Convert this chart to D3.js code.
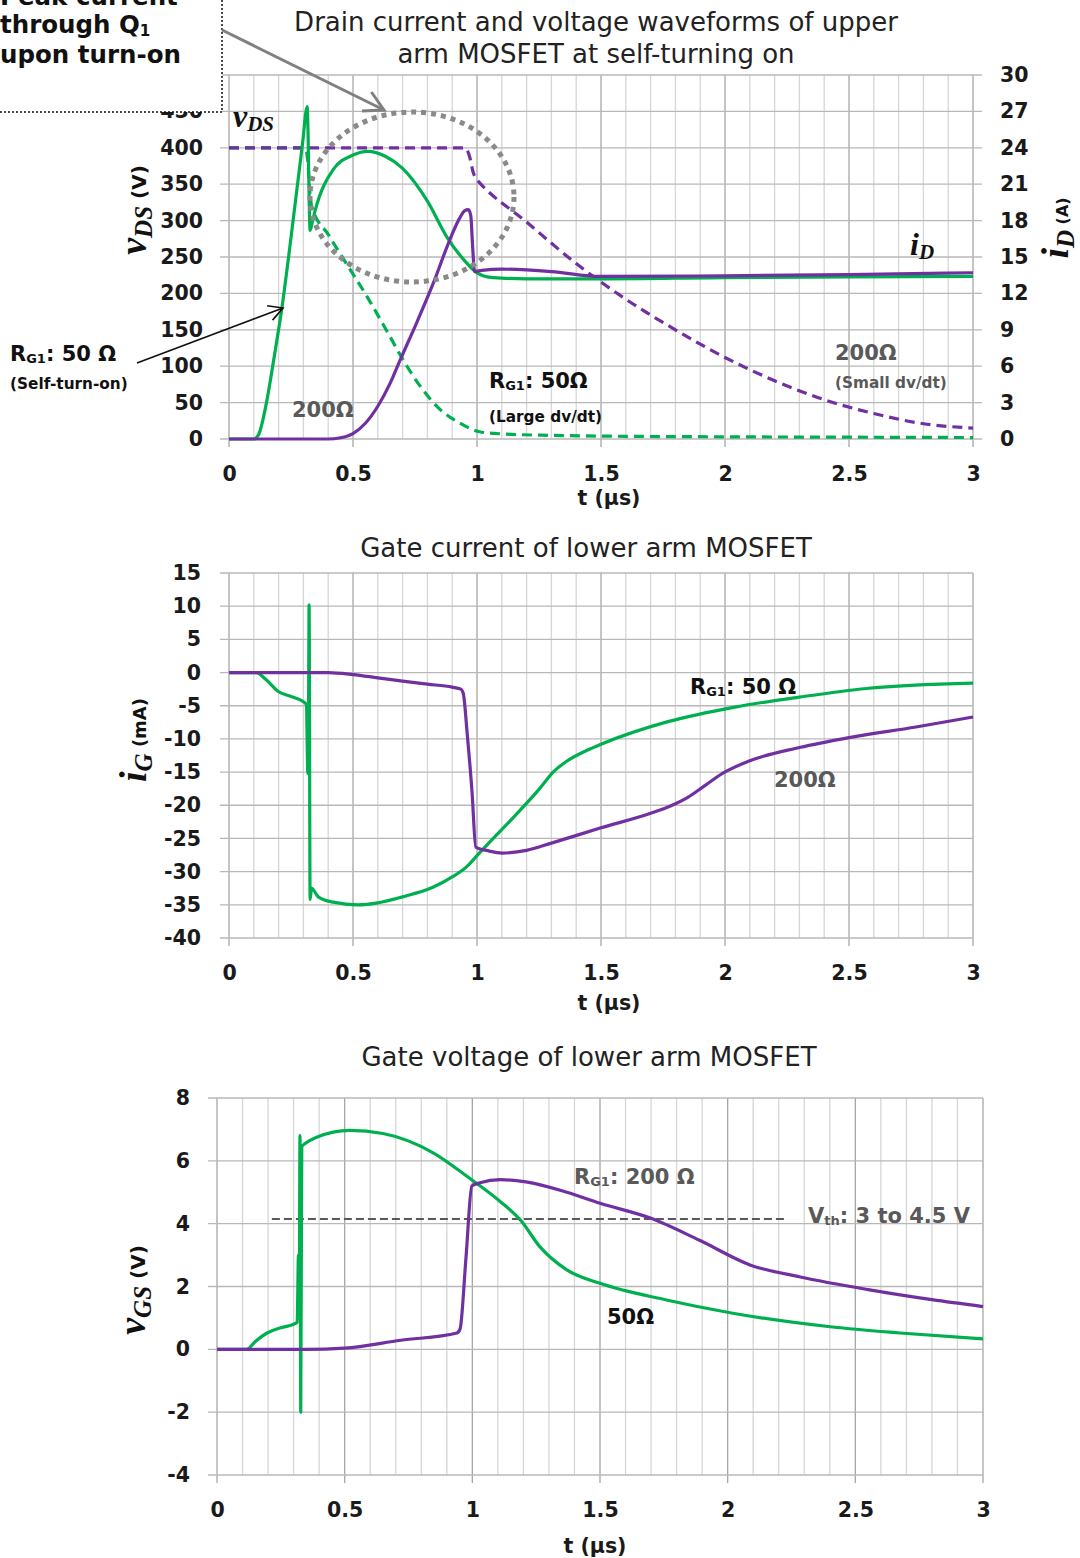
<!DOCTYPE html>
<html>
<head>
<meta charset="utf-8">
<script src="https://cdn.jsdelivr.net/npm/d3@7"></script>
<style>
  body { margin: 0; background: #fff; }
  svg { font-family: "DejaVu Sans", Verdana, sans-serif; }
</style>
</head>
<body>
<svg id="chart" width="1080" height="1558"></svg>
<script>
// tick values
const tTicks = [0, 0.5, 1, 1.5, 2, 2.5, 3];
const tGrid = d3.range(0, 31).map(i => i / 10);
const vdsTicks = [0, 50, 100, 150, 200, 250, 300, 350, 400, 450, 500];
const vdsLabels = [0, 50, 100, 150, 200, 250, 300, 350, 400, 450];
const idTicks = [0, 3, 6, 9, 12, 15, 18, 21, 24, 27, 30];
const igTicks = [15, 10, 5, 0, -5, -10, -15, -20, -25, -30, -35, -40];
const vgsTicks = [8, 6, 4, 2, 0, -2, -4];

// upper arm vDS (V), dashed  [t (us), value]
const vds50 = [[0, 400], [0.3, 400], [0.31, 398], [0.318, 380], [0.325, 342], [0.335, 318], [0.4, 281],
  [0.46, 248], [0.556, 196], [0.637, 148], [0.7, 110], [0.77, 73], [0.85, 41], [0.93, 22], [1.01, 10],
  [1.1, 7], [1.3, 5], [1.5, 4], [2, 3], [2.5, 2.5], [3, 2]];
const vds200 = [[0, 400], [0.95, 400], [0.96, 397], [0.97, 388], [0.985, 366], [0.995, 358], [1.0, 356],
  [1.2, 298], [1.4, 241], [1.6, 192], [1.8, 150], [2.0, 112], [2.2, 80], [2.4, 54], [2.6, 35], [2.8, 21],
  [3, 15]];

// upper arm iD (A), solid, right axis
const id50 = [[0, 0], [0.1, 0], [0.12, 0.4], [0.153, 3.2], [0.18, 6.5], [0.214, 10.9], [0.25, 16.6], [0.28, 21.6],
  [0.3, 25], [0.309, 26.8], [0.315, 27.4], [0.319, 25], [0.323, 20], [0.327, 17.2], [0.335, 17.8], [0.347, 18.8],
  [0.42, 22.2], [0.5, 23.4], [0.56, 23.7], [0.63, 23.3], [0.7, 22.3], [0.8, 19.6], [0.88, 16.6], [0.95, 14.7],
  [1.0, 13.7], [1.065, 13.3], [1.2, 13.2], [1.5, 13.2], [2, 13.3], [2.5, 13.35], [3, 13.4]];
const id200 = [[0, 0], [0.4, 0], [0.45, 0.1], [0.5, 0.45], [0.55, 1.3], [0.6, 2.7], [0.65, 4.6], [0.69, 6.5],
  [0.757, 9.6], [0.823, 12.8], [0.89, 16.4], [0.93, 18.2], [0.95, 18.8], [0.965, 18.9], [0.975, 18.4],
  [0.982, 16], [0.99, 13.8], [1.02, 13.9], [1.1, 14.0], [1.3, 13.8], [1.5, 13.4], [2, 13.45], [2.5, 13.55],
  [3, 13.7]];

// lower arm iG (mA)
const ig50 = [[0, 0], [0.11, 0], [0.15, -1.1], [0.2, -2.9], [0.25, -3.6], [0.3, -4.4], [0.312, -4.8],
  [0.318, -15.2], [0.321, -4], [0.323, 10.2], [0.327, -34.2], [0.333, -32.5], [0.36, -33.8], [0.42, -34.6],
  [0.52, -35], [0.6, -34.7], [0.7, -33.8], [0.82, -32.4], [0.9, -30.8], [0.96, -29.2], [1.0, -27.6],
  [1.05, -25.6], [1.15, -21.7], [1.25, -17.6], [1.31, -14.9], [1.36, -13.4], [1.45, -11.6], [1.5, -10.8],
  [1.77, -7.4], [2.04, -5.2], [2.3, -3.7], [2.57, -2.4], [3, -1.6]];
const ig200 = [[0, 0], [0.4, 0], [0.5, -0.3], [0.6, -0.8], [0.7, -1.3], [0.8, -1.75], [0.9, -2.2], [0.935, -2.5],
  [0.945, -3.2], [0.96, -9], [0.98, -18], [0.995, -26.3], [1.05, -26.9], [1.1, -27.2], [1.2, -26.8],
  [1.3, -25.7], [1.5, -23.4], [1.7, -21.2], [1.78, -20.1], [1.85, -18.8], [1.92, -17.0], [1.99, -15.2],
  [2.1, -13.3], [2.3, -11.3], [2.5, -9.8], [2.77, -8.2], [3, -6.7]];

// lower arm vGS (V)
const vgs50 = [[0, 0], [0.117, 0], [0.15, 0.25], [0.196, 0.52], [0.247, 0.68], [0.3, 0.8], [0.314, 0.86],
  [0.319, 3.0], [0.322, 1.0], [0.325, 6.8], [0.328, -2.0], [0.332, 6.45], [0.345, 6.55], [0.39, 6.75],
  [0.52, 6.97], [0.65, 6.87], [0.85, 6.24], [0.98, 5.5], [1.11, 4.7], [1.19, 4.1], [1.265, 3.26],
  [1.37, 2.53], [1.5, 2.1], [1.76, 1.57], [2.02, 1.15], [2.41, 0.71], [2.675, 0.52], [3, 0.33]];
const vgs200 = [[0, 0], [0.35, 0], [0.5, 0.04], [0.72, 0.29], [0.94, 0.52], [0.952, 0.65], [0.975, 2.9],
  [0.998, 5.2], [1.03, 5.3], [1.11, 5.4], [1.21, 5.33], [1.37, 5.0], [1.5, 4.65], [1.7, 4.17], [1.89, 3.47],
  [2.09, 2.68], [2.28, 2.31], [2.55, 1.9], [2.8, 1.58], [3, 1.36]];
const vth = [[0.215, 4.15], [2.225, 4.15]];

const green = "#00b050", purple = "#7030a0", gray = "#595959";
const svg = d3.select("#chart");
const fmt = d => String(d);

function panel(o) {
  const x = d3.scaleLinear().domain([0, 3]).range([o.left, o.right]);
  const y = d3.scaleLinear().domain(o.yDomain).range([o.bottom, o.top]);
  const g = svg.append("g");
  const major = d => Math.abs(d * 2 - Math.round(d * 2)) < 1e-6;

  g.selectAll("line.vg").data(tGrid).join("line")
    .attr("x1", d => x(d)).attr("x2", d => x(d))
    .attr("y1", o.top).attr("y2", d => major(d) ? o.bottom + 8 : o.bottom)
    .attr("stroke", d => major(d) ? "#a6a6a6" : "#d6d6d6")
    .attr("stroke-width", 1.3);

  g.selectAll("line.hg").data(o.yTicks).join("line")
    .attr("x1", o.left - 9).attr("x2", o.right + (o.rightTick ? 9 : 0))
    .attr("y1", d => y(d)).attr("y2", d => y(d))
    .attr("stroke", "#b8b8b8").attr("stroke-width", 1.3);

  const axL = g.append("g").attr("transform", `translate(${o.left},0)`)
    .call(d3.axisLeft(y).tickValues(o.yLabels || o.yTicks).tickFormat(fmt).tickSize(0).tickPadding(o.padL));
  styleAxis(axL);

  const axB = g.append("g").attr("transform", `translate(0,${o.bottom})`)
    .call(d3.axisBottom(x).tickValues(tTicks).tickFormat(fmt).tickSize(0).tickPadding(27));
  styleAxis(axB);

  g.append("text").attr("x", o.tx).attr("y", o.ty)
    .attr("text-anchor", "middle").attr("font-size", 20.5).attr("font-weight", "bold")
    .attr("fill", "#1a1a1a").text("t (\u00b5s)");

  return { x, y, g };
}

function styleAxis(ax) {
  ax.select(".domain").remove();
  ax.attr("font-family", null).attr("font-size", null);
  ax.selectAll("text").attr("font-size", 20.5).attr("font-weight", "bold").attr("fill", "#1a1a1a");
}

function drawLine(p, y, data, color, dashed) {
  const line = d3.line().x(d => p.x(d[0])).y(d => y(d[1])).curve(d3.curveMonotoneX);
  p.g.append("path").datum(data)
    .attr("d", line).attr("fill", "none").attr("stroke", color)
    .attr("stroke-width", 3.2).attr("stroke-linejoin", "round")
    .attr("stroke-dasharray", dashed ? "10,6" : null);
}

function title(x, y, txt) {
  svg.append("text").attr("x", x).attr("y", y).attr("text-anchor", "middle")
    .attr("font-size", 26).attr("fill", "#222").text(txt);
}

// label with subscript pieces: parts = [[text, sub?], ...]
function label(x, y, parts, size, color) {
  const t = svg.append("text").attr("x", x).attr("y", y).attr("font-size", size)
    .attr("font-weight", "bold").attr("fill", color);
  parts.forEach(([s, sub]) => {
    t.append("tspan").attr("font-size", sub ? size * 0.62 : size)
      .attr("baseline-shift", sub ? "-18%" : null).text(s);
  });
  return t;
}

// rotated axis title: italic serif variable + subscript + unit
function axisTitle(x, y, v, sub, unit, unitSize) {
  const t = svg.append("text").attr("transform", `translate(${x},${y}) rotate(-90)`)
    .attr("text-anchor", "middle").attr("font-weight", "bold").attr("fill", "#111");
  t.append("tspan").attr("font-family", "'Liberation Serif', serif").attr("font-style", "italic")
    .attr("font-size", 38).text(v);
  t.append("tspan").attr("font-family", "'Liberation Serif', serif").attr("font-style", "italic")
    .attr("font-size", 25).attr("baseline-shift", "-22%").text(sub);
  t.append("tspan").attr("font-size", unitSize).text(unit);
}

function italicVar(x, y, v, sub) {
  const t = svg.append("text").attr("x", x).attr("y", y).attr("font-weight", "bold")
    .attr("font-family", "'Liberation Serif', serif").attr("font-style", "italic").attr("fill", "#111");
  t.append("tspan").attr("font-size", 32).text(v);
  t.append("tspan").attr("font-size", 21).attr("baseline-shift", "-20%").text(sub);
}

function arrow(x1, y1, x2, y2, color, w, head) {
  const a = Math.atan2(y2 - y1, x2 - x1);
  svg.append("line").attr("x1", x1).attr("y1", y1).attr("x2", x2).attr("y2", y2)
    .attr("stroke", color).attr("stroke-width", w);
  const pts = [a + Math.PI - 0.5, a + Math.PI + 0.5].map(b => [x2 + head * Math.cos(b), y2 + head * Math.sin(b)]);
  svg.append("path")
    .attr("d", `M${pts[0][0]},${pts[0][1]}L${x2},${y2}L${pts[1][0]},${pts[1][1]}`)
    .attr("fill", "none").attr("stroke", color).attr("stroke-width", w);
}

// ---------- panel 1: drain current and voltage ----------
const p1 = panel({ left: 229, right: 973, top: 75, bottom: 439, yDomain: [0, 500],
  yTicks: vdsTicks, yLabels: vdsLabels, padL: 26, rightTick: true, tx: 609, ty: 505 });
const yId = d3.scaleLinear().domain([0, 30]).range([439, 75]);
const axR = p1.g.append("g").attr("transform", "translate(973,0)")
  .call(d3.axisRight(yId).tickValues(idTicks).tickFormat(fmt).tickSize(0).tickPadding(27));
styleAxis(axR);

drawLine(p1, p1.y, vds50, green, true);
drawLine(p1, p1.y, vds200, purple, true);
drawLine(p1, yId, id50, green, false);
drawLine(p1, yId, id200, purple, false);

svg.append("ellipse").attr("cx", 412).attr("cy", 197).attr("rx", 102).attr("ry", 85)
  .attr("fill", "none").attr("stroke", "#8a8a8a").attr("stroke-width", 5).attr("stroke-dasharray", "5,5");

title(596, 31, "Drain current and voltage waveforms of upper");
title(596, 63, "arm MOSFET at self-turning on");

italicVar(233, 127, "v", "DS");
italicVar(910, 255, "i", "D");
axisTitle(146, 210, "v", "DS", " (V)", 20);
axisTitle(1068, 228, "i", "D", " (A)", 16);

label(10, 361, [["R"], ["G1", true], [": 50 \u03a9"]], 21, "#111");
label(10, 389, [["(Self-turn-on)"]], 15.3, "#111");
arrow(137, 363, 283, 308, "#111", 1.6, 16);
label(292, 417, [["200\u03a9"]], 21, gray);
label(489, 388, [["R"], ["G1", true], [": 50\u03a9"]], 21, "#111");
label(489, 422, [["(Large dv/dt)"]], 15.3, "#111");
label(835, 360, [["200\u03a9"]], 21, gray);
label(835, 388, [["(Small dv/dt)"]], 15.3, gray);

// callout box, partly outside the picture
svg.append("rect").attr("x", -3).attr("y", -3).attr("width", 225).attr("height", 115)
  .attr("fill", "#fff").attr("stroke", "#111").attr("stroke-width", 1.5).attr("stroke-dasharray", "2,2");
label(0, 5, [["Peak current"]], 24.5, "#111");
label(0, 33, [["through Q"], ["1", true]], 24.5, "#111");
label(0, 63, [["upon turn-on"]], 24.5, "#111");
arrow(222, 30, 384, 110, "#808080", 3, 22);

// ---------- panel 2: gate current ----------
const p2 = panel({ left: 229, right: 973, top: 573, bottom: 938, yDomain: [-40, 15],
  yTicks: igTicks, padL: 28, tx: 609, ty: 1010 });
drawLine(p2, p2.y, ig50, green, false);
drawLine(p2, p2.y, ig200, purple, false);
title(586, 557, "Gate current of lower arm MOSFET");
axisTitle(146, 740, "i", "G", " (mA)", 18);
label(690, 694, [["R"], ["G1", true], [": 50 \u03a9"]], 21, "#111");
label(774, 787, [["200\u03a9"]], 21, gray);

// ---------- panel 3: gate voltage ----------
const p3 = panel({ left: 217, right: 983, top: 1098, bottom: 1475, yDomain: [-4, 8],
  yTicks: vgsTicks, padL: 27, tx: 595, ty: 1553 });
p3.g.append("path").datum(vth)
  .attr("d", d3.line().x(d => p3.x(d[0])).y(d => p3.y(d[1])))
  .attr("stroke", gray).attr("stroke-width", 2).attr("stroke-dasharray", "8,4").attr("fill", "none");
drawLine(p3, p3.y, vgs50, green, false);
drawLine(p3, p3.y, vgs200, purple, false);
title(589, 1066, "Gate voltage of lower arm MOSFET");
axisTitle(145, 1290, "v", "GS", "  (V)", 20);
label(574, 1184, [["R"], ["G1", true], [": 200 \u03a9"]], 21, gray);
label(808, 1223, [["V"], ["th", true], [": 3 to 4.5 V"]], 21, gray);
label(607, 1324, [["50\u03a9"]], 21, "#111");
</script>
</body>
</html>
